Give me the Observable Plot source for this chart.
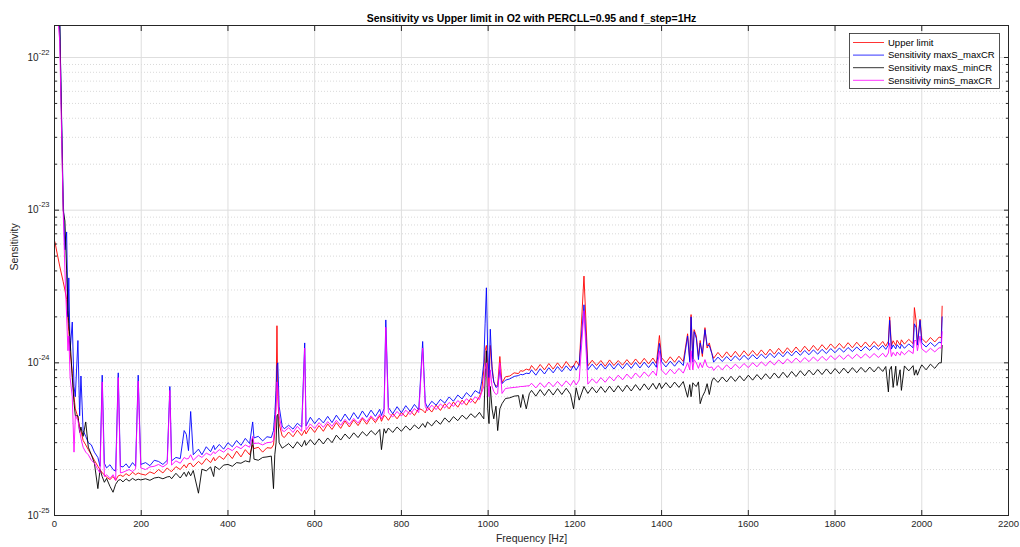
<!DOCTYPE html>
<html><head><meta charset="utf-8">
<script src="https://cdn.jsdelivr.net/npm/d3@7"></script>
<script src="https://cdn.jsdelivr.net/npm/@observablehq/plot@0.6"></script>
<style>
body{margin:0;background:#fff;font-family:"Liberation Sans",Arial,sans-serif;}
#chart{position:relative;width:1020px;height:547px;}
</style></head><body><div id="chart"></div>
<script>
// Frequencies [Hz]
const freq = [
1,5,12,20,24,28,31,33,36,41,
45,48,54,58,61,66,72,78,85,92,
100,105,110,115,120,128,135,141,147,152,
158,165,172,180,187,193,199,210,220,230,
240,250,260,266,270,280,290,299,304,309,
314,320,332,340,350,360,367,370,380,390,
400,410,420,430,440,450,457,460,470,480,
490,500,505,508,511,513,515,518,525,530,
540,550,560,570,577,580,590,600,610,620,
630,640,650,660,670,680,690,700,710,720,
730,740,750,754,760,764,770,780,790,800,
810,820,830,840,849,855,860,870,880,890,
900,910,920,930,940,950,960,970,980,985,
990,993,996,999,1002,1005,1009,1013,1018,1022,
1027,1032,1040,1050,1060,1070,1075,1080,1088,1095,
1100,1110,1120,1130,1140,1150,1160,1170,1180,1190,
1197,1203,1210,1221,1230,1240,1250,1260,1270,1280,
1290,1300,1310,1320,1330,1340,1350,1360,1370,1380,
1388,1395,1400,1410,1420,1430,1440,1450,1460,1465,
1468,1472,1475,1480,1485,1489,1494,1500,1505,1510,
1516,1520,1530,1540,1550,1560,1570,1580,1590,1600,
1610,1620,1630,1640,1650,1660,1670,1680,1690,1700,
1710,1720,1730,1740,1750,1760,1770,1780,1790,1800,
1810,1820,1830,1840,1850,1860,1870,1880,1890,1900,
1910,1917,1923,1926,1930,1934,1940,1943,1950,1953,
1960,1970,1980,1983,1987,1990,1996,2000,2010,2020,
2030,2040,2045,2047];

// Values in units of 1e-25
const upperLimit = [
62,54,43,34,30,26,19,16,12,8.5,
6.0,5.0,4.4,3.8,3.6,3.1,2.9,2.7,2.5,2.3,
2.1,2.0,1.9,1.85,1.78,1.72,1.8,1.7,1.82,1.84,
1.8,1.88,1.82,1.92,1.85,1.9,1.87,1.84,1.93,1.88,
2.0,1.9,2.05,1.97,1.94,2.09,2.0,2.15,2.05,2.18,
2.2,2.08,2.26,2.16,2.36,2.22,2.4,2.28,2.45,2.33,
2.55,2.36,2.64,2.42,2.7,2.5,2.9,2.74,2.8,2.6,
2.78,2.76,2.9,3.5,6.0,17.5,6.0,4.0,3.32,3.24,
3.52,3.28,3.62,3.34,3.62,3.42,3.8,3.5,3.88,3.56,
3.98,3.66,4.06,3.72,4.16,3.8,4.22,3.88,4.32,3.96,
4.4,4.06,4.5,4.14,4.52,4.45,4.2,4.66,4.3,4.72,
4.42,4.88,4.52,5.02,4.9,4.7,5.14,4.76,5.28,4.88,
5.4,5.0,5.54,5.12,5.7,5.28,5.84,5.42,6.02,6.5,
9.0,12,13,10,7,13,9.5,7.5,7.0,7.2,
11,7.4,8.1,8.2,8.6,8.5,8.9,8.8,9.1,8.95,
9.6,8.9,9.75,9.0,9.9,9.1,10.0,9.2,10.2,9.35,
9.5,10.3,9.6,37,9.55,10.4,9.6,10.35,9.5,10.45,
9.6,10.35,9.65,10.5,9.7,10.6,9.8,10.7,9.85,10.75,
9.9,15.1,10.8,10.0,10.95,10.1,11.05,10.2,15.5,10.4,
20.7,10.6,16.5,15,11,14,11,17,12.5,13.5,
11.5,10.7,11.7,10.8,11.8,10.9,11.9,10.95,12.0,11.1,
12.05,11.15,12.15,11.25,12.3,11.4,12.45,11.5,12.55,11.65,
12.7,11.75,12.85,11.9,13.0,12.05,13.15,12.2,13.3,12.4,
13.4,12.45,13.55,12.55,13.65,12.65,13.7,12.7,13.8,12.8,
13.8,12.85,13.85,20,12.95,13.95,13.0,14.05,13.1,14.15,
13.25,14.25,13.35,23,18.7,13.4,19.3,14.45,13.55,14.65,
13.7,14.75,14.6,23.5];

const maxSmaxCR = [
2500,2500,1800,120,55,72,20,36,12,18.5,
7,6,14,4.5,8.2,3.6,3.3,3.0,2.9,2.6,
2.4,2.1,8.3,2.2,2.05,2.15,2.0,1.95,8.6,2.1,
2.08,2.18,2.05,2.22,2.1,8.3,2.16,2.22,2.12,2.3,
2.26,2.16,2.3,7.0,2.28,2.4,2.36,3.6,3.4,2.66,
4.8,2.5,2.72,2.5,2.82,2.62,2.88,2.7,2.92,2.72,
3.0,2.82,3.1,2.88,3.2,2.96,4.1,3.22,3.3,3.08,
3.28,3.24,3.6,4.6,6.6,9.6,10.0,5.2,3.85,3.7,
3.9,3.68,4.02,3.8,13.5,3.86,4.4,4.0,4.34,4.04,
4.46,4.06,4.54,4.14,4.62,4.2,4.72,4.3,4.84,4.4,
4.9,4.46,4.96,4.52,5.02,19.1,5.1,4.64,5.16,4.7,
5.24,4.82,5.34,4.92,13.8,5.5,5.1,5.6,5.28,5.76,
5.45,5.98,5.6,6.15,5.8,6.38,5.98,6.58,6.3,7.5,
10,18,31,12,8,16.6,9,7.5,6.9,7.0,
9,7.3,7.7,7.85,8.15,8.25,8.4,8.35,8.55,8.5,
9.0,8.3,9.15,8.45,9.3,8.6,9.45,8.75,9.55,8.85,
9.6,8.95,9.7,24,9.0,9.8,9.05,9.85,9.1,9.9,
9.1,9.9,9.15,9.95,9.2,10.05,9.25,10.1,9.3,10.15,
9.35,13.4,10.15,9.4,10.25,9.5,10.35,9.6,15,10.1,
20,10.1,16,14.5,10.5,13.5,11.5,16.5,13,13,
11.5,10.1,10.9,10.2,11.0,10.3,11.1,10.4,11.2,10.5,
11.3,10.6,11.4,10.7,11.55,10.8,11.7,10.95,11.85,11.1,
11.95,11.2,12.05,11.3,12.15,11.4,12.25,11.5,12.4,11.65,
12.5,11.75,12.6,11.85,12.7,11.95,12.8,12.05,12.95,12.2,
13.0,12.25,13.05,19,12.3,13.1,12.35,13.15,12.4,13.2,
12.45,13.3,12.55,18,17,13.05,19,13.5,12.7,13.6,
12.8,13.65,13.5,20];

const maxSminCR = [
2500,2500,1800,100,85,40,22,18,14,8,
5.5,4.5,4.5,3.5,3.8,3.3,4.1,2.8,2.5,2.2,
1.5,2.0,1.8,1.65,1.75,1.55,1.42,1.6,1.7,1.72,
1.66,1.74,1.68,1.75,1.7,1.73,1.71,1.74,1.7,1.76,
1.78,1.74,1.79,1.8,1.74,1.89,1.76,1.92,1.8,1.94,
1.82,1.97,1.4,2.01,1.96,2.08,1.8,2.1,2.0,2.14,
2.16,2.1,2.22,2.2,2.28,2.24,3.2,2.34,2.3,2.4,
2.42,2.45,1.5,2.5,3.0,4.5,4.6,3.0,2.76,2.82,
2.96,2.76,3.04,2.82,3.1,2.88,3.14,2.9,3.18,2.94,
3.22,3.0,3.36,3.12,3.42,3.18,3.48,3.24,3.54,3.32,
3.6,3.38,3.66,2.7,3.7,3.46,3.74,3.5,3.8,3.56,
3.86,3.62,3.92,3.7,4.0,3.78,4.1,3.86,4.2,3.96,
4.36,4.08,4.44,4.18,4.54,4.28,4.64,4.38,4.74,4.5,
4.3,8,12,5,4.0,7,5,4.3,5.2,3.6,
5,5.4,5.84,5.9,6.05,6.1,5.1,6.2,5.0,6.28,
6.6,6.05,6.68,6.1,6.72,6.15,6.78,6.2,6.82,6.22,
5.0,6.86,5.7,7,6.3,6.92,6.36,6.98,6.4,7.04,
6.44,7.08,6.48,7.14,6.54,7.2,6.6,7.28,6.66,7.34,
6.72,7.38,6.78,7.42,6.84,7.48,6.9,7.54,5.95,7.2,
6.0,7.4,7.2,7.0,7.5,5.4,6.0,6.5,7.3,6.2,
7.6,7.98,7.44,8.08,7.5,8.16,7.56,8.22,7.62,8.3,
7.7,8.38,7.78,8.48,7.86,8.58,7.94,8.68,8.02,8.78,
8.12,8.88,8.22,8.96,8.32,9.04,8.38,9.12,8.44,9.18,
8.5,9.24,8.56,9.3,8.62,9.34,8.68,9.38,8.72,9.42,
8.78,9.46,6.45,9.0,9.48,6.9,9.5,7.1,9.0,6.6,
9.54,8.86,9.58,8.3,9.0,8.3,9.2,9.7,9.0,9.8,
9.2,10.0,10,13];

const minSmaxCR = [
2500,2200,1290,99,40,20,12,15,8,6,
2.6,4.5,4.2,3.6,3.2,2.8,2.6,2.5,2.3,2.2,
2.0,1.9,7.5,1.8,1.85,1.75,1.85,1.7,8.0,1.9,
1.92,1.96,2.0,1.94,2.02,7.6,2.05,2.0,2.08,2.1,
2.16,2.08,2.18,6.6,2.14,2.28,2.2,2.4,2.35,2.36,
2.5,2.3,2.48,2.4,2.56,2.48,2.62,2.54,2.7,2.6,
2.76,2.66,2.84,2.74,2.9,2.8,3.3,2.96,2.98,2.9,
3.0,3.02,3.1,3.8,5.0,7.5,7.0,4.5,3.6,3.55,
3.76,3.5,3.84,3.56,12.5,3.64,3.98,3.72,4.06,3.78,
4.12,3.84,4.2,3.9,4.26,3.96,4.32,4.04,4.4,4.12,
4.5,4.2,4.6,4.3,4.64,17.1,4.7,4.42,4.8,4.48,
4.9,4.58,5.02,4.72,12.5,5.18,4.86,5.28,4.94,5.38,
5.06,5.5,5.18,5.66,5.34,5.82,5.5,5.98,5.75,6.4,
7,9,10,8,6,9,7,6.5,6.2,6.3,
10,6.3,6.79,6.85,6.9,6.95,7.0,7.0,7.05,7.08,
7.35,6.85,7.4,6.9,7.48,6.98,7.55,7.02,7.62,7.1,
7.68,7.16,7.72,22,7.25,7.86,7.35,8.0,7.46,8.14,
7.62,8.3,7.74,8.44,7.86,8.58,8.0,8.72,8.14,8.84,
8.26,12,8.96,8.36,9.08,8.46,9.2,8.56,10,9.0,
12,9.0,10.5,10,9.2,10,9.3,10.5,9.5,9.3,
9.4,8.92,9.6,9.0,9.7,9.1,9.8,9.2,9.9,9.3,
10.02,9.42,10.15,9.54,10.3,9.68,10.45,9.82,10.6,10.0,
10.75,10.08,10.82,10.18,10.92,10.26,11.02,10.36,11.15,10.5,
11.2,10.54,11.3,10.64,11.38,10.72,11.45,10.78,11.5,10.84,
11.56,10.9,11.6,13.5,11.0,11.7,11.1,11.78,11.2,11.86,
11.3,12.05,11.5,14,14,12,15,12.35,11.7,12.45,
11.8,12.55,12.5,16];

const unit = 1e-25;
const seriesNames = ["Upper limit","Sensitivity maxS_maxCR","Sensitivity maxS_minCR","Sensitivity minS_maxCR"];
const seriesColors = ["#ff0000","#0000ff","#000000","#ff00ff"];
const seriesValues = [upperLimit, maxSmaxCR, maxSminCR, minSmaxCR];

const xTicks = [0,200,400,600,800,1000,1200,1400,1600,1800,2000,2200];
const yMajor = [1e-25,1e-24,1e-23,1e-22];
const yMinor = [2e-25,3e-25,4e-25,5e-25,6e-25,7e-25,8e-25,9e-25,
                2e-24,3e-24,4e-24,5e-24,6e-24,7e-24,8e-24,9e-24,
                2e-23,3e-23,4e-23,5e-23,6e-23,7e-23,8e-23,9e-23];

seriesValues.forEach((v,i)=>{ if (v.length !== freq.length) console.error(seriesNames[i]+" length "+v.length+" vs "+freq.length); });

const tables = seriesValues.map(vals => freq.map((f,i)=>({f, v: vals[i]*unit})));

const font = "Liberation Sans, Arial, sans-serif";
const axisColor = "#262626";

const chart = Plot.plot({
  width: 1020, height: 547,
  marginLeft: 54, marginRight: 12, marginTop: 25, marginBottom: 32,
  style: {fontFamily: font, background: "#fff"},
  x: {domain: [0, 2200], label: null},
  y: {type: "log", domain: [1e-25, 1.62e-22], label: null},
  marks: [
    Plot.gridY(yMinor, {stroke: "#c8c8c8", strokeOpacity: 1, strokeDasharray: "1,2", strokeWidth: 0.7}),
    Plot.gridY(yMajor, {stroke: "#dedede", strokeOpacity: 1}),
    Plot.gridX(xTicks, {stroke: "#dedede", strokeOpacity: 1}),
    ...tables.map((t,i)=>Plot.line(t, {x: "f", y: "v", stroke: seriesColors[i], strokeWidth: 0.9, clip: true})),
    Plot.frame({stroke: axisColor, strokeWidth: 1}),
    Plot.axisX(xTicks, {anchor: "bottom", tickSize: -5, tickPadding: 10, fontSize: 9.5, color: axisColor, label: null, tickFormat: d3.format("d")}),
    Plot.axisX(xTicks, {anchor: "top", tickSize: -5, color: axisColor, label: null, tickFormat: () => ""}),
    Plot.axisY(yMajor, {anchor: "left", tickSize: -5, tickPadding: 10, fontSize: 10, color: axisColor, label: null, tickFormat: d => "10^" + Math.round(Math.log10(d))}),
    Plot.axisY(yMinor, {anchor: "left", tickSize: -3, color: axisColor, label: null, tickFormat: () => ""}),
    Plot.axisY(yMajor, {anchor: "right", tickSize: -5, color: axisColor, label: null, tickFormat: () => ""}),
    Plot.axisY(yMinor, {anchor: "right", tickSize: -3, color: axisColor, label: null, tickFormat: () => ""}),
    Plot.text(["Sensitivity vs Upper limit in O2 with PERCLL=0.95 and f_step=1Hz"], {text: d => d, frameAnchor: "top", dy: -11, fontWeight: "bold", fontSize: 10.5, fill: "#000"}),
    Plot.text(["Frequency [Hz]"], {text: d => d, frameAnchor: "bottom", dy: 26, fontSize: 10.5, fill: axisColor}),
    Plot.text(["Sensitivity"], {text: d => d, frameAnchor: "left", dx: -40, rotate: -90, fontSize: 10.5, fill: axisColor})
  ]
});

// superscript exponents on y tick labels
d3.select(chart).selectAll('[aria-label="y-axis tick label"] text').each(function(){
  const s = this.textContent;
  if (s.startsWith("10^")) {
    const exp = s.slice(3);
    const t = d3.select(this);
    t.text("");
    t.append("tspan").style("font-size", "10px").text("10");
    t.append("tspan").attr("dy", "-6").style("font-size", "7.5px").text(exp);
  }
});

// legend
const svg = d3.select(chart);
const lg = svg.append("g").attr("font-family", font).attr("font-size", 9.5).attr("text-anchor", "start");
lg.append("rect").attr("x", 849.5).attr("y", 33.5).attr("width", 150).attr("height", 55)
  .attr("fill", "#fff").attr("stroke", axisColor).attr("stroke-width", 0.8);
seriesNames.forEach((name, i) => {
  const y = 42.5 + i * 12.6;
  lg.append("line").attr("x1", 853).attr("x2", 884).attr("y1", y).attr("y2", y)
    .attr("stroke", seriesColors[i]).attr("stroke-width", 0.8);
  lg.append("text").attr("x", 888).attr("y", y).attr("dy", "0.35em").attr("fill", "#000")
    .attr("text-anchor", "start").text(name);
});

document.getElementById("chart").appendChild(chart);
</script></body></html>
